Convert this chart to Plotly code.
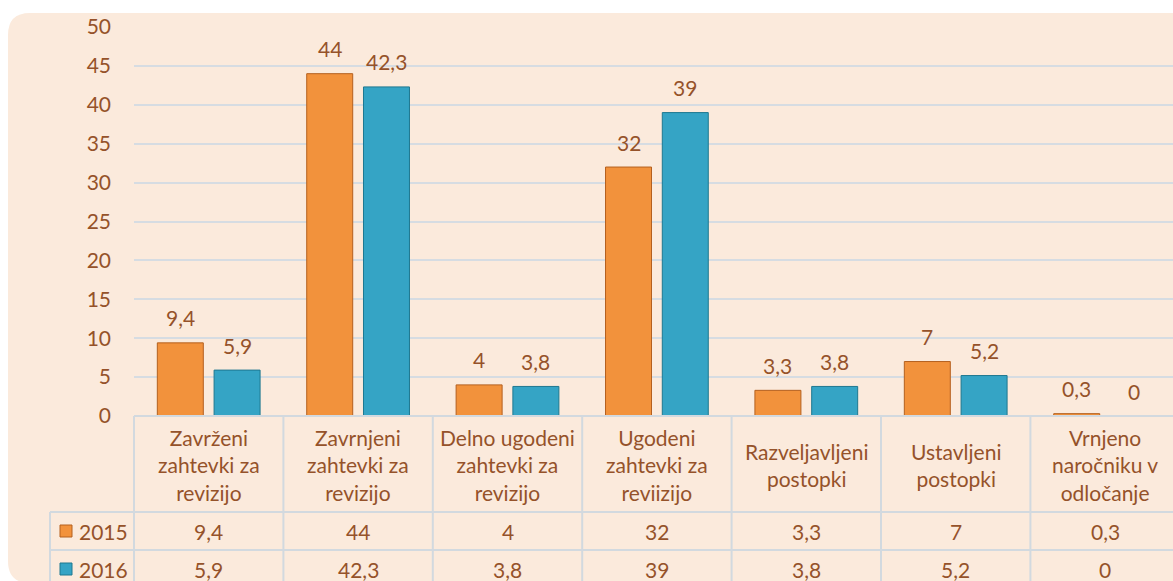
import plotly.graph_objects as go

# ---- data ----
categories = [
    "Zavrženi zahtevki za revizijo",
    "Zavrnjeni zahtevki za revizijo",
    "Delno ugodeni zahtevki za revizijo",
    "Ugodeni zahtevki za reviizijo",
    "Razveljavljeni postopki",
    "Ustavljeni postopki",
    "Vrnjeno naročniku v odločanje",
]
category_lines = [
    ["Zavrženi", "zahtevki za", "revizijo"],
    ["Zavrnjeni", "zahtevki za", "revizijo"],
    ["Delno ugodeni", "zahtevki za", "revizijo"],
    ["Ugodeni", "zahtevki za", "reviizijo"],
    ["Razveljavljeni", "postopki"],
    ["Ustavljeni", "postopki"],
    ["Vrnjeno", "naročniku v", "odločanje"],
]
series_names = ["2015", "2016"]
values_2015 = [9.4, 44, 4, 32, 3.3, 7, 0.3]
values_2016 = [5.9, 42.3, 3.8, 39, 3.8, 5.2, 0]
y_ticks = [0, 5, 10, 15, 20, 25, 30, 35, 40, 45, 50]

# ---- style ----
W, H = 1173, 581
ML, MR, MT, MB = 134, 0, 27, 165
PW, PH = W - ML - MR, H - MT - MB
CAT_W = 149.4
XR = [-0.5, -0.5 + PW / CAT_W]
TXT = "#95522A"
FONT = "Lato"
FS = 21
GRID = "#D6DCE2"
TABLE_LINE = "#D2D9DF"
BG = "#FBEADC"
ORANGE, ORANGE_EDGE = "#F2923C", "#B4601F"
BLUE, BLUE_EDGE = "#35A4C5", "#1E7890"
colors = [(ORANGE, ORANGE_EDGE), (BLUE, BLUE_EDGE)]
series_vals = [values_2015, values_2016]


def fmt(v):
    s = ("%g" % v)
    return s.replace(".", ",")


def px_x(x):
    return (x - ML) / PW


def px_y(y):
    return (MT + PH - y) / PH


def dx(d):
    return (d - XR[0]) / (XR[1] - XR[0])


fig = go.Figure()
for name, vals, (c, e) in zip(series_names, series_vals, colors):
    fig.add_trace(go.Bar(
        x=categories, y=vals, name=name,
        marker=dict(color=c, line=dict(color=e, width=1)),
        hoverinfo="skip",
    ))

annotations = []
offsets = [-28.4, 28.4]
# data labels above bars
for vals, off in zip(series_vals, offsets):
    for cat, v in zip(categories, vals):
        annotations.append(dict(
            x=cat, y=v, xref="x", yref="y", text=fmt(v), showarrow=False,
            xshift=off, yshift=25, yanchor="middle",
            font=dict(family=FONT, size=FS, color=TXT),
        ))

# category header cells
for cat, lines in zip(categories, category_lines):
    annotations.append(dict(
        x=cat, y=px_y(465), xref="x", yref="paper", text="<br>".join(lines),
        showarrow=False, yanchor="middle", align="center",
        font=dict(family=FONT, size=FS, color=TXT),
    ))

# table value rows
row_centers = [531, 569]
for name, vals, yc in zip(series_names, series_vals, row_centers):
    annotations.append(dict(
        x=px_x(77), y=px_y(yc), xref="paper", yref="paper", text=name,
        showarrow=False, xanchor="left", yanchor="middle",
        font=dict(family=FONT, size=FS, color=TXT),
    ))
    for cat, v in zip(categories, vals):
        annotations.append(dict(
            x=cat, y=px_y(yc), xref="x", yref="paper", text=fmt(v),
            showarrow=False, yanchor="middle",
            font=dict(family=FONT, size=FS, color=TXT),
        ))

shapes = []
# rounded background
r = 22
L, T, R, B = 8, 13, 1190, 583
path = (f"M {px_x(L)},{px_y(T + r)} Q {px_x(L)},{px_y(T)} {px_x(L + r)},{px_y(T)} "
        f"L {px_x(R)},{px_y(T)} L {px_x(R)},{px_y(B)} L {px_x(L + r)},{px_y(B)} "
        f"Q {px_x(L)},{px_y(B)} {px_x(L)},{px_y(B - r)} Z")
shapes.append(dict(type="path", path=path, xref="paper", yref="paper",
                   fillcolor=BG, line=dict(width=0), layer="below"))

line = dict(color=TABLE_LINE, width=2)
# table horizontal lines
shapes.append(dict(type="line", xref="paper", yref="paper", x0=0, x1=1.02,
                   y0=0, y1=0, line=line))
for yy in [512, 550, 588]:
    shapes.append(dict(type="line", xref="paper", yref="paper", x0=px_x(50), x1=1.02,
                       y0=px_y(yy), y1=px_y(yy), line=line))
# table vertical lines
shapes.append(dict(type="line", xref="paper", yref="paper", x0=px_x(50), x1=px_x(50),
                   y0=px_y(512), y1=px_y(600), line=line))
for i in range(len(categories) + 1):
    xx = dx(i - 0.5)
    shapes.append(dict(type="line", xref="paper", yref="paper", x0=xx, x1=xx,
                       y0=0, y1=px_y(600), line=line))
# legend keys in table
for (c, e), yc in zip(colors, row_centers):
    shapes.append(dict(type="rect", xref="paper", yref="paper",
                       x0=px_x(60), x1=px_x(72), y0=px_y(yc - 6), y1=px_y(yc + 6),
                       fillcolor=c, line=dict(color=e, width=1)))

fig.update_layout(
    width=W, height=H,
    margin=dict(l=ML, r=MR, t=MT, b=MB),
    paper_bgcolor="white", plot_bgcolor="rgba(0,0,0,0)",
    barmode="group", bargap=0.24, bargroupgap=0.19,
    showlegend=False,
    font=dict(family=FONT, size=FS, color=TXT),
    xaxis=dict(range=XR, showticklabels=False, showgrid=False, zeroline=False,
               showline=False, fixedrange=True),
    yaxis=dict(range=[0, 50], tickvals=y_ticks, showgrid=True, gridcolor=GRID,
               gridwidth=2, zeroline=False, showline=False,
               tickfont=dict(family=FONT, size=FS, color=TXT),
               ticklabelstandoff=22, fixedrange=True),
    annotations=annotations,
    shapes=shapes,
)

fig.write_html(
    "out.html",
    config={"displayModeBar": False},
    post_script="document.body.style.margin='0';document.body.style.overflow='hidden';",
)
